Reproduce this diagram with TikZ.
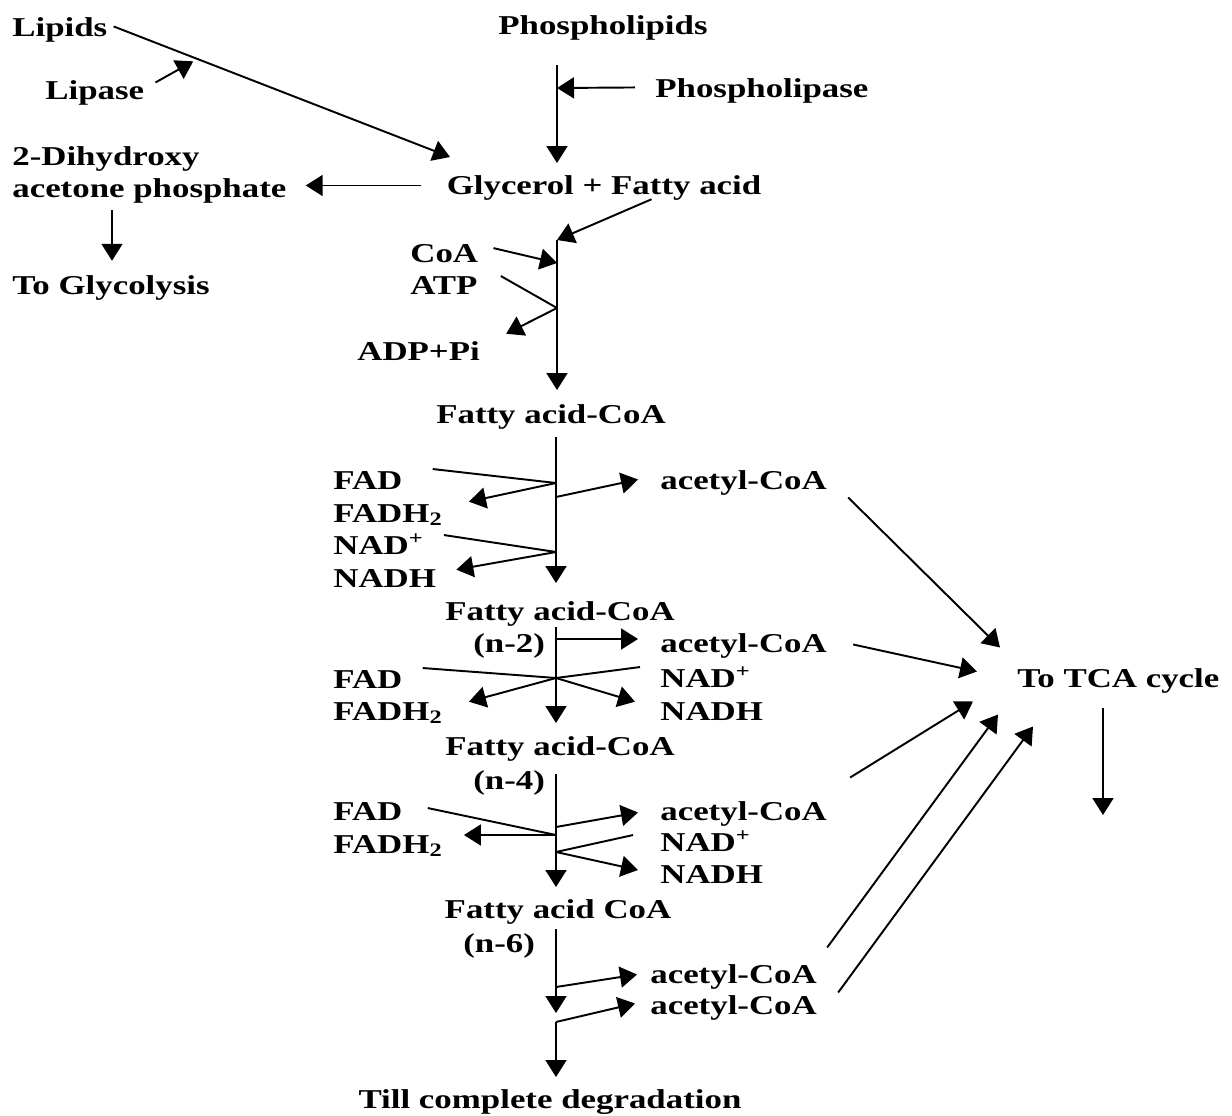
\documentclass[tikz,border=0pt]{standalone}
\usepackage{fontspec}
\setmainfont{Liberation Serif}[FakeStretch=1.28]
\usetikzlibrary{arrows.meta, calc}

\begin{document}
\begin{tikzpicture}[
    x=0.02cm, y=-0.02cm,
    lbl/.style={font=\fontsize{15.5}{18.6}\selectfont\bfseries, inner sep=0pt, anchor=base west},
    clbl/.style={lbl, anchor=base},
    flow/.style={-{Triangle[length=0.34cm, width=0.42cm]}, line width=1.1pt},
    link/.style={line width=1.1pt}
]
    \useasboundingbox (0,0) rectangle (1232,1116);

    % Lipid sources
    \node[lbl] (lipids) at (12,36) {Lipids};
    \node[lbl] (lipase) at (45,99) {Lipase};
    \node[clbl] (phos) at (603,34) {Phospholipids};
    \node[lbl] (phlase) at (655,97) {Phospholipase};
    \node[clbl] (glyc) at (604,194) {Glycerol + Fatty acid};
    \node[lbl, anchor=north west, align=left] (dhap) at (12,146) {2-Dihydroxy\\acetone phosphate};
    \node[lbl] (glyco) at (12,294) {To Glycolysis};

    % Activation
    \node[lbl] (coa) at (410,262) {CoA};
    \node[lbl] (atp) at (410,294) {ATP};
    \node[lbl] (adp) at (357,360) {ADP+Pi};
    \node[clbl] (fa0) at (551,423) {Fatty acid-CoA};

    % Oxidation rounds
    \node[lbl] (fad1) at (333,489) {FAD};
    \node[lbl] (fadh1) at (333,522) {FADH\textsubscript{2}};
    \node[lbl] (nad1) at (333,554) {NAD\textsuperscript{+}};
    \node[lbl] (nadh1) at (333,587) {NADH};
    \node[lbl] (ac1) at (660,489) {acetyl-CoA};

    \node[clbl] (fa2) at (560,620) {Fatty acid-CoA};
    \node[lbl] (n2) at (473,652) {(n-2)};
    \node[lbl] (ac2) at (660,652) {acetyl-CoA};
    \node[lbl] (fad2) at (333,688) {FAD};
    \node[lbl] (fadh2) at (333,720) {FADH\textsubscript{2}};
    \node[lbl] (nad2) at (660,687) {NAD\textsuperscript{+}};
    \node[lbl] (nadh2) at (660,720) {NADH};

    \node[clbl] (fa4) at (560,755) {Fatty acid-CoA};
    \node[lbl] (n4) at (473,789) {(n-4)};
    \node[lbl] (fad3) at (333,820) {FAD};
    \node[lbl] (fadh3) at (333,853) {FADH\textsubscript{2}};
    \node[lbl] (ac3) at (660,820) {acetyl-CoA};
    \node[lbl] (nad3) at (660,851) {NAD\textsuperscript{+}};
    \node[lbl] (nadh3) at (660,883) {NADH};

    \node[clbl] (fa6) at (558,918) {Fatty acid CoA};
    \node[lbl] (n6) at (463,952) {(n-6)};
    \node[lbl] (ac4) at (650,983) {acetyl-CoA};
    \node[lbl] (ac5) at (650,1014) {acetyl-CoA};
    \node[clbl] (till) at (550,1108) {Till complete degradation};

    \node[lbl] (tca) at (1017,687) {To TCA cycle};

    % Junctions on the main chain
    \coordinate (glyc-in) at (450,157);
    \coordinate (ph-top) at (557,65);
    \coordinate (ph-enz) at (557,88);
    \coordinate (ph-end) at (557,163);
    \coordinate (fa-in) at (557,240);
    \coordinate (coa-j) at (557,263);
    \coordinate (atp-j) at (557,308);
    \coordinate (act-end) at (557,390);
    \coordinate (r1-top) at (556,437);
    \coordinate (r1-fad) at (556,483);
    \coordinate (r1-ac) at (556,497);
    \coordinate (r1-nad) at (556,552);
    \coordinate (r1-end) at (556,583);
    \coordinate (r2-top) at (556,627);
    \coordinate (r2-ac) at (556,639);
    \coordinate (r2-x) at (556,678);
    \coordinate (r2-end) at (556,723);
    \coordinate (r3-top) at (556,774);
    \coordinate (r3-ac) at (556,827);
    \coordinate (r3-fad) at (556,835);
    \coordinate (r3-nad) at (556,852);
    \coordinate (r3-end) at (556,887);
    \coordinate (r4-top) at (556,929);
    \coordinate (r4-ac) at (556,987);
    \coordinate (r4-end) at (556,1013);
    \coordinate (r5-top) at (556,1022);
    \coordinate (r5-end) at (556,1077);
    \coordinate (tca-out) at (1103,815);

    % Hydrolysis
    \draw[flow] ($(lipids.east)+(6,-3)$) -- (glyc-in);
    \coordinate (lip-enz) at ($(lipids.east)!0.25!(glyc-in)$);
    \draw[flow] ($(lipase.east)+(11,-10)$) -- (lip-enz);
    \draw[flow] (ph-top) -- (ph-end);
    \draw[flow] ($(phlase.west)+(-20,-3)$) -- (ph-enz);
    \draw[flow] ($(glyc.west)+(-25,-2)$) -- ($(glyc.west -| dhap.east)+(19,-2)$);
    \draw[flow] ($(dhap.south west)+(100,6)$) -- ($(glyco.north west)+(100,-14)$);

    % Activation
    \draw[flow] ($(glyc.south east)+(-110,-1)$) -- (fa-in);
    \draw[flow] (fa-in) -- (act-end);
    \draw[flow] ($(coa.east)+(15,-5)$) -- (coa-j);
    \draw[link] ($(atp.east)+(23,-9)$) -- (atp-j);
    \draw[flow] (atp-j) -- ($(adp.north east)+(26,-7)$);

    % Round 1
    \draw[flow] (r1-top) -- (r1-end);
    \draw[link] ($(fad1.east)+(30,-11)$) -- (r1-fad);
    \draw[flow] (r1-fad) -- ($(fadh1.north east)+(26,-2)$);
    \draw[flow] (r1-ac) -- ($(ac1.west)+(-22,-3)$);
    \draw[link] ($(nad1.east)+(20,-9)$) -- (r1-nad);
    \draw[flow] (r1-nad) -- ($(nadh1.north east)+(20,1)$);

    % Round 2
    \draw[flow] (r2-top) -- (r2-end);
    \draw[flow] (r2-ac) -- ($(r2-ac -| ac2.west)+(-22,0)$);
    \draw[link] ($(fad2.east)+(20,-11)$) -- (r2-x);
    \draw[link] ($(nad2.west)+(-20,-10)$) -- (r2-x);
    \draw[flow] (r2-x) -- ($(fadh2.north east)+(26,0)$);
    \draw[flow] (r2-x) -- ($(nadh2.north west)+(-25,0)$);

    % Round 3
    \draw[flow] (r3-top) -- (r3-end);
    \draw[link] ($(fad3.east)+(25,-3)$) -- (r3-fad);
    \draw[flow] (r3-fad) -- ($(r3-fad -| fadh3.east)+(21,0)$);
    \draw[flow] (r3-ac) -- ($(ac3.west)+(-22,-1)$);
    \draw[link] ($(nad3.west)+(-27,-6)$) -- (r3-nad);
    \draw[flow] (r3-nad) -- ($(nadh3.west)+(-22,-4)$);

    % Last rounds
    \draw[flow] (r4-top) -- (r4-end);
    \draw[flow] (r4-ac) -- ($(ac4.west)+(-13,-2)$);
    \draw[flow] (r5-top) -- ($(ac5.west)+(-15,-4)$);
    \draw[flow] (r5-top) -- (r5-end);

    % To TCA cycle
    \draw[flow] ($(ac1.east)+(21,15)$) -- ($(tca.west)+(-17,-33)$);
    \draw[flow] ($(ac2.east)+(26,-1)$) -- ($(tca.west)+(-40,-9)$);
    \draw[flow] ($(ac3.east)+(23,-36)$) -- ($(tca.west)+(-44,21)$);
    \draw[flow] ($(ac4.east)+(10,-29)$) -- ($(tca.west)+(-19,34)$);
    \draw[flow] ($(ac5.east)+(21,-15)$) -- ($(tca.west)+(16,46)$);
    \draw[flow] ($(tca.south west)+(86,15)$) -- (tca-out);
\end{tikzpicture}
\end{document}
